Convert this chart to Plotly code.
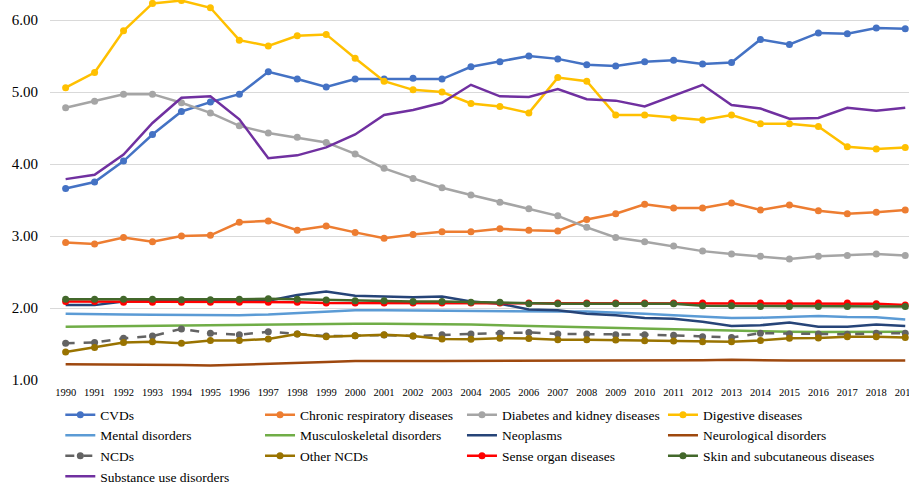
import plotly.graph_objects as go

years = list(range(1990, 2020))

cvds = [3.66, 3.75, 4.04, 4.41, 4.73, 4.86, 4.97, 5.28, 5.18, 5.07, 5.18, 5.18, 5.19, 5.18,
        5.35, 5.42, 5.50, 5.46, 5.38, 5.36, 5.42, 5.44, 5.39, 5.41, 5.73, 5.66, 5.82, 5.81, 5.89, 5.88]
chronic_resp = [2.91, 2.89, 2.98, 2.92, 3.00, 3.01, 3.19, 3.21, 3.08, 3.14, 3.05, 2.97, 3.02, 3.06,
                3.06, 3.10, 3.08, 3.07, 3.23, 3.31, 3.44, 3.39, 3.39, 3.46, 3.36, 3.43, 3.35, 3.31, 3.33, 3.36]
diabetes_kidney = [4.78, 4.87, 4.97, 4.97, 4.85, 4.71, 4.53, 4.43, 4.37, 4.30, 4.14, 3.94, 3.80, 3.67,
                   3.57, 3.47, 3.38, 3.28, 3.12, 2.98, 2.92, 2.86, 2.79, 2.75, 2.72, 2.68, 2.72, 2.73, 2.75, 2.73]
digestive = [5.06, 5.27, 5.85, 6.23, 6.27, 6.17, 5.72, 5.64, 5.78, 5.80, 5.47, 5.15, 5.03, 5.00,
             4.84, 4.80, 4.71, 5.20, 5.15, 4.68, 4.68, 4.64, 4.61, 4.68, 4.56, 4.56, 4.52, 4.24, 4.21, 4.23]
mental = [1.92, 1.91, 1.91, 1.905, 1.90, 1.90, 1.90, 1.91, 1.93, 1.95, 1.97, 1.97, 1.965, 1.96,
          1.96, 1.955, 1.95, 1.95, 1.95, 1.94, 1.92, 1.90, 1.875, 1.86, 1.865, 1.88, 1.89, 1.875, 1.87, 1.84]
musculoskeletal = [1.74, 1.745, 1.75, 1.75, 1.75, 1.755, 1.76, 1.765, 1.77, 1.775, 1.78, 1.78, 1.78, 1.775,
                   1.77, 1.76, 1.75, 1.745, 1.735, 1.725, 1.715, 1.705, 1.70, 1.69, 1.68, 1.67, 1.665, 1.665, 1.665, 1.67]
neoplasms = [2.04, 2.04, 2.09, 2.10, 2.10, 2.10, 2.10, 2.10, 2.18, 2.23, 2.17, 2.16, 2.15, 2.16,
             2.09, 2.06, 1.98, 1.97, 1.92, 1.90, 1.86, 1.85, 1.81, 1.75, 1.76, 1.80, 1.74, 1.74, 1.77, 1.75]
neurological = [1.22, 1.22, 1.22, 1.215, 1.21, 1.20, 1.21, 1.22, 1.235, 1.25, 1.265, 1.27, 1.265, 1.265,
                1.265, 1.265, 1.27, 1.27, 1.275, 1.27, 1.27, 1.275, 1.275, 1.28, 1.27, 1.27, 1.27, 1.27, 1.27, 1.27]
ncds = [1.51, 1.52, 1.58, 1.61, 1.71, 1.65, 1.63, 1.67, 1.64, 1.61, 1.615, 1.625, 1.61, 1.63,
        1.64, 1.65, 1.66, 1.64, 1.64, 1.63, 1.63, 1.62, 1.60, 1.59, 1.65, 1.64, 1.64, 1.635, 1.65, 1.65]
other_ncds = [1.39, 1.45, 1.52, 1.53, 1.51, 1.55, 1.55, 1.57, 1.64, 1.60, 1.615, 1.63, 1.61, 1.57,
              1.565, 1.58, 1.575, 1.56, 1.56, 1.555, 1.545, 1.54, 1.53, 1.53, 1.55, 1.58, 1.585, 1.60, 1.60, 1.59]
sense_organ = [2.09, 2.09, 2.08, 2.08, 2.08, 2.08, 2.08, 2.08, 2.08, 2.07, 2.07, 2.07, 2.07, 2.07,
               2.07, 2.07, 2.07, 2.07, 2.07, 2.07, 2.07, 2.07, 2.07, 2.07, 2.07, 2.07, 2.07, 2.07, 2.06, 2.04]
skin = [2.12, 2.12, 2.12, 2.12, 2.115, 2.115, 2.12, 2.13, 2.12, 2.11, 2.10, 2.10, 2.09, 2.09,
        2.08, 2.08, 2.06, 2.06, 2.06, 2.06, 2.06, 2.06, 2.03, 2.03, 2.02, 2.02, 2.02, 2.02, 2.02, 2.02]
substance = [3.79, 3.85, 4.13, 4.57, 4.92, 4.94, 4.62, 4.08, 4.12, 4.23, 4.41, 4.68, 4.75, 4.85,
             5.10, 4.94, 4.93, 5.04, 4.90, 4.88, 4.80, 4.95, 5.10, 4.82, 4.77, 4.63, 4.64, 4.78, 4.74, 4.78]

series_names = ["CVDs", "Chronic respiratory diseases", "Diabetes and kidney diseases", "Digestive diseases",
                "Mental disorders", "Musculoskeletal disorders", "Neoplasms", "Neurological disorders",
                "NCDs", "Other NCDs", "Sense organ diseases", "Skin and subcutaneous diseases",
                "Substance use disorders"]
series_values = [cvds, chronic_resp, diabetes_kidney, digestive, mental, musculoskeletal, neoplasms,
                 neurological, ncds, other_ncds, sense_organ, skin, substance]
colors = ["#4472C4", "#ED7D31", "#A5A5A5", "#FFC000", "#5B9BD5", "#70AD47", "#264478", "#9E480E",
          "#636363", "#997300", "#FF0000", "#43682B", "#7030A0"]
has_markers = [True, True, True, True, False, False, False, False, True, True, True, True, False]
dashes = ["solid"] * 8 + ["dash"] + ["solid"] * 4

SERIF = "Liberation Serif"
legend_ids = ["legend", "legend2", "legend3", "legend4"]

fig = go.Figure()
for i, (name, vals, col, mk, dsh) in enumerate(zip(series_names, series_values, colors, has_markers, dashes)):
    fig.add_trace(go.Scatter(
        x=years, y=vals, name=name,
        mode="lines+markers" if mk else "lines",
        line=dict(color=col, width=2.5, dash=dsh),
        marker=dict(color=col, size=7),
        cliponaxis=False,
        legend=legend_ids[i % 4],
    ))

legend_x = [0.012, 0.2445, 0.4796, 0.7136]
legend_common = dict(
    orientation="v", y=-0.051, xanchor="left", yanchor="top",
    font=dict(size=13.5, family=SERIF, color="#000000"),
    tracegroupgap=0, itemwidth=30, maxheight=200,
    bgcolor="rgba(0,0,0,0)",
)

fig.update_layout(
    width=909, height=482,
    margin=dict(l=50, r=0, t=0, b=102, autoexpand=False),
    plot_bgcolor="white", paper_bgcolor="white",
    font=dict(family=SERIF, color="#000000"),
    showlegend=True,
    legend=dict(x=legend_x[0], **legend_common),
    legend2=dict(x=legend_x[1], **legend_common),
    legend3=dict(x=legend_x[2], **legend_common),
    legend4=dict(x=legend_x[3], **legend_common),
    xaxis=dict(
        range=[1989.46, 2019.13],
        tickvals=years, ticktext=[str(y) for y in years],
        showgrid=False, zeroline=False, showline=False,
        tickfont=dict(size=10.5, family=SERIF, color="#000000"), ticks="", ticklabelstandoff=4,
        ticklabeloverflow="allow",
        fixedrange=True,
    ),
    yaxis=dict(
        range=[1.0, 1 + 380 / 72],
        tickvals=[1, 2, 3, 4, 5, 6], tickformat=".2f",
        showgrid=True, gridcolor="#D9D9D9", gridwidth=1,
        zeroline=False, showline=False,
        tickfont=dict(size=15, family=SERIF, color="#000000"), ticks="", ticklabelstandoff=11,
        fixedrange=True,
    ),
)

fig.write_html("out.html")
